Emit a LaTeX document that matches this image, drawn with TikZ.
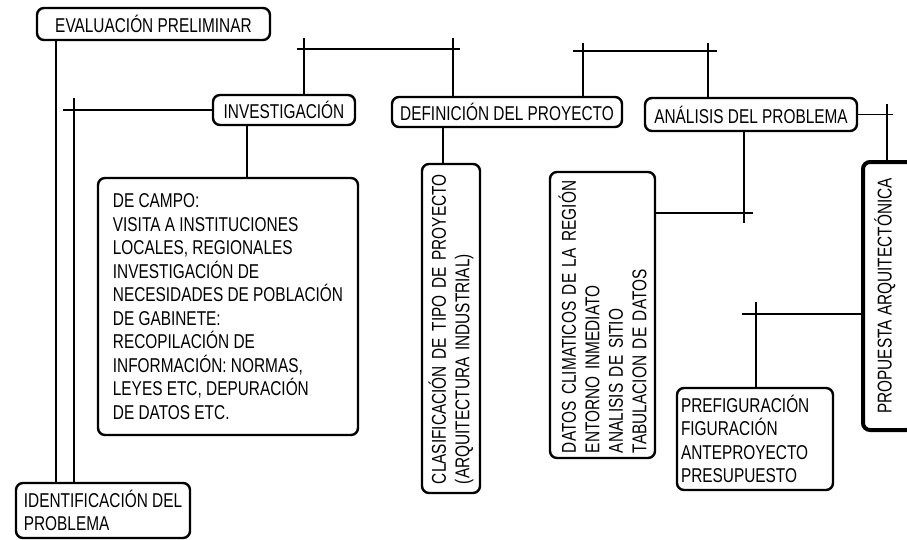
\documentclass[tikz,border=0pt]{standalone}
\usepackage{fontspec}
\setmainfont[FakeStretch=0.77]{Liberation Sans}
\usetikzlibrary{calc, positioning}

\begin{document}
\begin{tikzpicture}[x=1pt, y=-1pt,
    caja/.style={draw, line width=2.4pt, rounded corners=7pt, inner sep=0pt,
                 font=\fontsize{20}{23.5}\selectfont},
    linea/.style={line width=1.4pt}]
\useasboundingbox (0,0) rectangle (907,539);

% Cajas principales
\node[caja, minimum width=233pt, minimum height=32pt] (eval) at (153.5,24) {EVALUACIÓN PRELIMINAR};
\node[caja, minimum width=142pt, minimum height=30pt] (inv) at (284,110) {INVESTIGACIÓN};
\node[caja, minimum width=230pt, minimum height=30pt] (def) at (507,112) {DEFINICIÓN DEL PROYECTO};
\node[caja, minimum width=212pt, minimum height=33pt] (ana) at (751,114.5) {ANÁLISIS DEL PROBLEMA};

% Cajas de detalle
\node[caja, minimum width=260pt, minimum height=257pt, align=left] (campo) at (228,306.5)
    {DE CAMPO:\\ VISITA A INSTITUCIONES\\ LOCALES, REGIONALES\\ INVESTIGACIÓN DE\\ NECESIDADES DE POBLACIÓN\\
     DE GABINETE:\\ RECOPILACIÓN DE\\ INFORMACIÓN: NORMAS,\\ LEYES ETC, DEPURACIÓN\\ DE DATOS ETC.};
\node[caja, minimum width=174pt, minimum height=55pt, align=left] (ident) at (103,510.5)
    {IDENTIFICACIÓN DEL\\ PROBLEMA};
\node[caja, rotate=90, text width=311pt, inner xsep=9pt, minimum height=58pt, align=left] (clas) at (451,328.5)
    {CLASIFICACIÓN DE TIPO DE PROYECTO\\ (ARQUITECTURA INDUSTRIAL)};
\node[caja, rotate=90, text width=276pt, inner xsep=5pt, minimum height=105pt, align=left] (datos) at (602.5,315)
    {DATOS CLIMATICOS DE LA REGIÓN\\ ENTORNO INMEDIATO\\ ANALISIS DE SITIO\\ TABULACION DE DATOS};
\node[caja, text width=148pt, inner xsep=4pt, minimum height=102pt, align=left] (pref) at (755,439)
    {PREFIGURACIÓN\\ FIGURACIÓN\\ ANTEPROYECTO\\ PRESUPUESTO};
\node[caja, rotate=90, line width=4pt, minimum width=268pt, minimum height=50pt, text depth=10pt] (prop) at (888,296)
    {PROPUESTA ARQUITECTÓNICA};

% Lineas de la izquierda
\coordinate (v1) at (56,0);
\coordinate (t1) at (63,0);
\coordinate (v2) at (74,98);
\draw[linea] (eval.south -| v1) -- (ident.north -| v1);
\draw[linea] (inv.west) -- (inv.west -| t1);
\draw[linea] (v2) -- (ident.north -| v2);

% Barras superiores
\coordinate (v3) at (304,38);
\coordinate (v4) at (453,38);
\coordinate (b1) at (297,49);
\coordinate (b2) at (460,49);
\draw[linea] (v3) -- (inv.north -| v3);
\draw[linea] (v4) -- (def.north -| v4);
\draw[linea] (b1) -- (b2);

\coordinate (v5) at (583,43);
\coordinate (v6) at (708,43);
\coordinate (b3) at (573,51);
\coordinate (b4) at (717,51);
\draw[linea] (v5) -- (def.north -| v5);
\draw[linea] (v6) -- (ana.north -| v6);
\draw[linea] (b3) -- (b4);

\coordinate (t2) at (893,0);
\coordinate (v7) at (887,104);
\draw[linea] (ana.east) -- (ana.east -| t2);
\draw[linea] (v7) -- (prop.east -| v7);

% Lineas hacia las cajas de detalle
\coordinate (v8) at (247,0);
\coordinate (v9) at (443,0);
\draw[linea] (inv.south -| v8) -- (campo.north -| v8);
\draw[linea] (def.south -| v9) -- (clas.east -| v9);

\coordinate (v10) at (744,223);
\coordinate (t3) at (753,213);
\draw[linea] (ana.south -| v10) -- (v10);
\draw[linea] (datos.south |- t3) -- (t3);

\coordinate (t4) at (742,314);
\coordinate (v11) at (756,302);
\draw[linea] (t4) -- (prop.north |- t4);
\draw[linea] (v11) -- (pref.north -| v11);
\end{tikzpicture}
\end{document}
